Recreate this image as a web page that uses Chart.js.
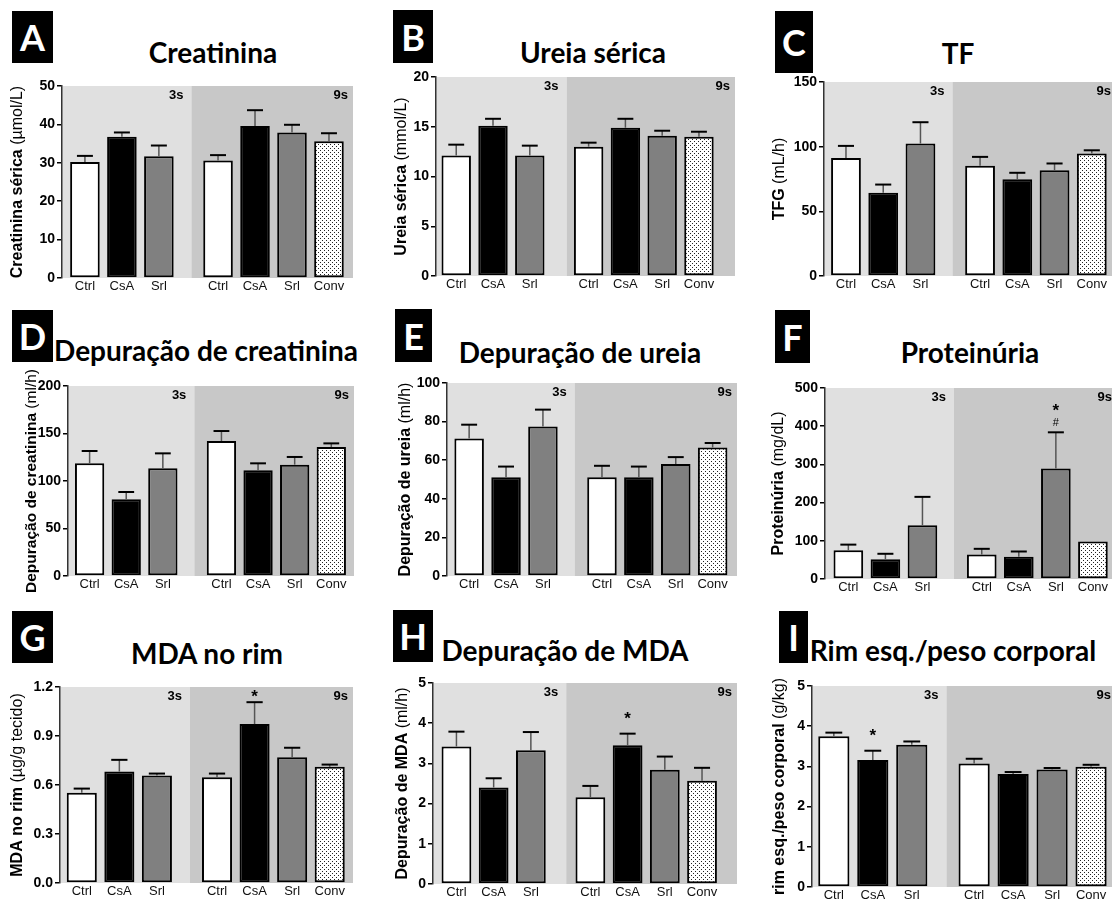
<!DOCTYPE html>
<html>
<head>
<meta charset="utf-8">
<script src="https://cdn.jsdelivr.net/npm/chart.js@4.4.1/dist/chart.umd.min.js"></script>
<style>
  body { margin: 0; width: 1112px; height: 902px; overflow: hidden; background: #fff; position: relative; }
  .letra { position: absolute; background: #000; color: #fff; font: bold 36px Lato, sans-serif;
           display: flex; align-items: center; justify-content: center; }
  .titulo { position: absolute; font: bold 28px Lato, sans-serif; color: #000; white-space: nowrap;
            transform: translate(-50%, -50%); }
  canvas { position: absolute; }
</style>
</head>
<body>
<script>
// --- Dados ---
const grupos = ['Ctrl', 'CsA', 'Srl', 'Ctrl', 'CsA', 'Srl', 'Conv'];
const posicoesX = [1, 2, 3, 4.6, 5.6, 6.6, 7.6]; // posição de cada grupo no eixo x (com espaço entre 3s e 9s)
const periodos = ['3s', '9s'];

const creatininaMedia = [30.2, 36.8, 31.7, 30.6, 39.6, 37.9, 35.6];
const creatininaErro  = [1.6, 1.1, 2.8, 1.4, 4.1, 2.0, 2.1];

const ureiaMedia = [12.1, 15.1, 12.1, 13.0, 14.9, 14.1, 14.0];
const ureiaErro  = [1.1, 0.7, 1.0, 0.4, 0.9, 0.5, 0.5];

const tfgMedia = [91.3, 64.3, 102.4, 85.2, 74.9, 81.8, 94.7];
const tfgErro  = [9.3, 6.4, 16.5, 6.9, 4.9, 5.2, 2.5];

const depCreatininaMedia = [118.6, 80.7, 113.3, 142.1, 111.2, 117.2, 135.8];
const depCreatininaErro  = [13.0, 7.7, 15.8, 10.5, 7.4, 8.1, 3.8];

const depUreiaMedia = [71.3, 51.2, 77.5, 51.2, 51.2, 58.0, 66.6];
const depUreiaErro  = [7.1, 5.5, 8.7, 5.9, 5.5, 3.6, 2.3];

const proteinuriaMedia = [75, 52, 141, 64, 58, 289, 98];
const proteinuriaErro  = [15, 14, 74, 15, 14, 95, 0];

const mdaRimMedia = [0.553, 0.682, 0.658, 0.648, 0.973, 0.770, 0.711];
const mdaRimErro  = [0.025, 0.072, 0.012, 0.022, 0.134, 0.058, 0.014];

const depMdaMedia = [3.42, 2.40, 3.33, 2.16, 3.45, 2.84, 2.57];
const depMdaErro  = [0.37, 0.23, 0.45, 0.28, 0.29, 0.33, 0.32];

const rimPesoMedia = [3.75, 3.16, 3.54, 3.07, 2.81, 2.92, 2.99];
const rimPesoErro  = [0.09, 0.23, 0.08, 0.12, 0.05, 0.04, 0.05];

// Marcas de significância: [índice da barra, texto, valor y]
const proteinuriaSinais = [[5, '*', 452], [5, '#', 410]];
const mdaRimSinais = [[4, '*', 1.165]];
const depMdaSinais = [[4, '*', 4.21]];
const rimPesoSinais = [[1, '*', 3.86]];

// --- Painéis (posições na página) ---
const paineis = [
  { letra: 'A', caixa: [12, 11, 41, 52], titulo: 'Creatinina', tituloPos: [213, 52],
    rotulo: ['Creatinina sérica', ' (µmol/L)'], media: creatininaMedia, erro: creatininaErro,
    yMax: 50, passo: 10, casas: 0, eixoX: 62, topo: 86, base: 278, direita: 353,
    xMin: 0.38, xMax: 8.25, divisao: 3.88, rotuloDx: 44, rotuloTam: 16, sinais: [] },
  { letra: 'B', caixa: [393, 10, 40, 53], titulo: 'Ureia sérica', tituloPos: [593, 52],
    rotulo: ['Ureia sérica', ' (mmol/L)'], media: ureiaMedia, erro: ureiaErro,
    yMax: 20, passo: 5, casas: 0, eixoX: 436, topo: 77, base: 276, direita: 735,
    xMin: 0.45, xMax: 8.58, divisao: 4.0, rotuloDx: 34, rotuloTam: 16, sinais: [] },
  { letra: 'C', caixa: [775, 11, 38, 62], titulo: 'TF', tituloPos: [958, 53],
    rotulo: ['TFG', ' (mL/h)'], media: tfgMedia, erro: tfgErro,
    yMax: 150, passo: 50, casas: 0, eixoX: 824, topo: 82, base: 276, direita: 1116,
    xMin: 0.41, xMax: 8.25, divisao: 3.86, rotuloDx: 44, rotuloTam: 16, sinais: [] },
  { letra: 'D', caixa: [12, 310, 41, 52], titulo: 'Depuração de creatinina', tituloPos: [206, 350],
    rotulo: ['Depuração de creatinina', ' (ml/h)'], media: depCreatininaMedia, erro: depCreatininaErro,
    yMax: 200, passo: 50, casas: 0, eixoX: 68, topo: 386, base: 576, direita: 354,
    xMin: 0.41, xMax: 8.22, divisao: 3.86, rotuloDx: 36, rotuloTam: 15.5, sinais: [] },
  { letra: 'E', caixa: [395, 309, 37, 53], titulo: 'Depuração de ureia', tituloPos: [580, 352],
    rotulo: ['Depuração de ureia', ' (ml/h)'], media: depUreiaMedia, erro: depUreiaErro,
    yMax: 100, passo: 20, casas: 0, eixoX: 447, topo: 383, base: 576, direita: 737,
    xMin: 0.40, xMax: 8.26, divisao: 3.86, rotuloDx: 41, rotuloTam: 16, sinais: [] },
  { letra: 'F', caixa: [775, 310, 35, 53], titulo: 'Proteinúria', tituloPos: [970, 352],
    rotulo: ['Proteinúria', ' (mg/dL)'], media: proteinuriaMedia, erro: proteinuriaErro,
    yMax: 500, passo: 100, casas: 0, eixoX: 825, topo: 388, base: 579, direita: 1117,
    xMin: 0.37, xMax: 8.25, divisao: 3.85, rotuloDx: 46, rotuloTam: 16, sinais: proteinuriaSinais },
  { letra: 'G', caixa: [12, 611, 41, 52], titulo: 'MDA no rim', tituloPos: [207, 653],
    rotulo: ['MDA no rim', ' (µg/g tecido)'], media: mdaRimMedia, erro: mdaRimErro,
    yMax: 1.2, passo: 0.3, casas: 1, eixoX: 60, topo: 687, base: 883, direita: 353,
    xMin: 0.42, xMax: 8.22, divisao: 3.88, rotuloDx: 42, rotuloTam: 16, sinais: mdaRimSinais },
  { letra: 'H', caixa: [393, 610, 40, 52], titulo: 'Depuração de MDA', tituloPos: [565, 650],
    rotulo: ['Depuração de MDA', ' (ml/h)'], media: depMdaMedia, erro: depMdaErro,
    yMax: 5, passo: 1, casas: 0, eixoX: 433, topo: 683, base: 884, direita: 737,
    xMin: 0.37, xMax: 8.54, divisao: 3.95, rotuloDx: 30, rotuloTam: 16, sinais: depMdaSinais },
  { letra: 'I', caixa: [779, 611, 29, 52], titulo: 'Rim esq./peso corporal', tituloPos: [953, 650],
    rotulo: ['rim esq./peso corporal', ' (g/kg)'], media: rimPesoMedia, erro: rimPesoErro,
    yMax: 5, passo: 1, casas: 0, eixoX: 812, topo: 686, base: 887, direita: 1116,
    xMin: 0.44, xMax: 8.24, divisao: 3.89, rotuloDx: 32, rotuloTam: 16, sinais: rimPesoSinais }
];

const FONTE = '"Liberation Sans", Arial, sans-serif';
const MARGEM_ESQ = 62;  // largura reservada ao eixo y
const MARGEM_TOPO = 28;
const ALTURA_X = 18;

// Padrão pontilhado da barra "Conv"
function padraoPontilhado() {
  const c = document.createElement('canvas');
  c.width = 4; c.height = 4;
  const g = c.getContext('2d');
  g.fillStyle = '#fff';
  g.fillRect(0, 0, 4, 4);
  g.fillStyle = '#222';
  g.fillRect(0, 0, 1, 1);
  g.fillRect(2, 2, 1, 1);
  return g.createPattern(c, 'repeat');
}

// Fundo cinza das regiões 3s / 9s
const fundoPlugin = {
  id: 'fundo',
  beforeDraw(chart, args, opts) {
    const { ctx, chartArea: a } = chart;
    const xs = chart.scales.x.getPixelForValue(opts.divisao);
    ctx.save();
    ctx.fillStyle = '#e0e0e0';
    ctx.fillRect(a.left, a.top, xs - a.left, a.bottom - a.top);
    ctx.fillStyle = '#c8c8c8';
    ctx.fillRect(xs, a.top, a.right - xs, a.bottom - a.top);
    ctx.fillStyle = '#000';
    ctx.font = 'bold 13px ' + FONTE;
    ctx.textAlign = 'right';
    ctx.textBaseline = 'middle';
    ctx.fillText(periodos[0], xs - 8, a.top + 9);
    ctx.fillText(periodos[1], a.right - 5, a.top + 9);
    ctx.restore();
  }
};

// Barras de erro (só para cima) e sinais
const erroPlugin = {
  id: 'erros',
  afterDatasetsDraw(chart, args, opts) {
    const { ctx } = chart;
    const y = chart.scales.y;
    const barras = chart.getDatasetMeta(0).data;
    ctx.save();
    barras.forEach((b, i) => {
      const e = opts.erro[i];
      if (!e) return;
      const yTopo = y.getPixelForValue(opts.media[i] + e);
      const meia = b.width * 0.27;
      ctx.strokeStyle = '#555';
      ctx.lineWidth = 1.5;
      ctx.beginPath();
      ctx.moveTo(b.x, b.y);
      ctx.lineTo(b.x, yTopo);
      ctx.stroke();
      ctx.strokeStyle = '#000';
      ctx.lineWidth = 2;
      ctx.beginPath();
      ctx.moveTo(b.x - meia, yTopo);
      ctx.lineTo(b.x + meia, yTopo);
      ctx.stroke();
    });
    ctx.fillStyle = '#000';
    ctx.textAlign = 'center';
    opts.sinais.forEach(([i, texto, valor]) => {
      const tam = texto === '*' ? 17 : 11;
      ctx.font = (texto === '*' ? 'bold ' : '') + tam + 'px ' + FONTE;
      const yc = y.getPixelForValue(valor);
      ctx.textBaseline = 'alphabetic';
      const desloc = texto === '*' ? tam * 0.55 : tam * 0.35;
      ctx.fillText(texto, barras[i].x, yc + desloc);
    });
    ctx.restore();
  }
};

// Título do eixo y com parte em negrito e parte normal
const rotuloPlugin = {
  id: 'rotuloY',
  afterDraw(chart, args, opts) {
    const { ctx, chartArea: a } = chart;
    ctx.save();
    ctx.translate(a.left - opts.dx, (a.top + a.bottom) / 2);
    ctx.rotate(-Math.PI / 2);
    ctx.fillStyle = '#000';
    ctx.textBaseline = 'middle';
    ctx.textAlign = 'left';
    const fNegrito = 'bold ' + opts.tam + 'px ' + FONTE;
    const fNormal = opts.tam + 'px ' + FONTE;
    ctx.font = fNegrito;
    const w1 = ctx.measureText(opts.texto[0]).width;
    ctx.font = fNormal;
    const w2 = ctx.measureText(opts.texto[1]).width;
    const x = -(w1 + w2) / 2;
    ctx.font = fNegrito;
    ctx.fillText(opts.texto[0], x, 0);
    ctx.font = fNormal;
    ctx.fillText(opts.texto[1], x + w1, 0);
    ctx.restore();
  }
};

const pontilhado = padraoPontilhado();

paineis.forEach(p => {
  // Letra do painel
  const caixa = document.createElement('div');
  caixa.className = 'letra';
  caixa.style.left = p.caixa[0] + 'px';
  caixa.style.top = p.caixa[1] + 'px';
  caixa.style.width = p.caixa[2] + 'px';
  caixa.style.height = p.caixa[3] + 'px';
  caixa.textContent = p.letra;
  document.body.appendChild(caixa);

  // Título
  const tit = document.createElement('div');
  tit.className = 'titulo';
  tit.style.left = p.tituloPos[0] + 'px';
  tit.style.top = p.tituloPos[1] + 'px';
  tit.textContent = p.titulo;
  document.body.appendChild(tit);

  // Gráfico
  const canvas = document.createElement('canvas');
  const largura = p.direita - p.eixoX + MARGEM_ESQ;
  const altura = p.base - p.topo + MARGEM_TOPO + ALTURA_X;
  canvas.width = largura;
  canvas.height = altura;
  canvas.style.left = (p.eixoX - MARGEM_ESQ) + 'px';
  canvas.style.top = (p.topo - MARGEM_TOPO) + 'px';
  document.body.appendChild(canvas);

  new Chart(canvas, {
    type: 'bar',
    data: {
      datasets: [{
        data: posicoesX.map((x, i) => ({ x: x, y: p.media[i] })),
        backgroundColor: ['#fff', '#000', '#808080', '#fff', '#000', '#808080', pontilhado],
        borderColor: '#000',
        borderWidth: 2,
        borderSkipped: false,
        barPercentage: 0.8,
        categoryPercentage: 1
      }]
    },
    options: {
      responsive: false,
      animation: false,
      devicePixelRatio: 1,
      layout: { padding: { left: 0, right: 0, top: MARGEM_TOPO, bottom: 0 } },
      scales: {
        x: {
          type: 'linear',
          offset: false,
          min: p.xMin,
          max: p.xMax,
          grid: { display: false, drawTicks: false },
          border: { display: false },
          afterBuildTicks: s => { s.ticks = posicoesX.map(v => ({ value: v })); },
          afterFit: s => { s.height = ALTURA_X; },
          ticks: {
            autoSkip: false,
            maxRotation: 0,
            padding: 1,
            color: '#111',
            font: { family: FONTE, size: 13 },
            callback: (v, i) => grupos[i]
          }
        },
        y: {
          min: 0,
          max: p.yMax,
          afterFit: s => { s.width = MARGEM_ESQ; },
          grid: { display: true, drawOnChartArea: false, drawTicks: true, tickLength: 5, color: '#000', lineWidth: 1.5 },
          border: { display: true, color: '#333', width: 1.5 },
          ticks: {
            stepSize: p.passo,
            padding: 2,
            color: '#000',
            font: { family: FONTE, size: 14, weight: 'bold' },
            callback: v => v.toFixed(p.casas)
          }
        }
      },
      plugins: {
        legend: { display: false },
        tooltip: { enabled: false },
        fundo: { divisao: p.divisao },
        erros: { media: p.media, erro: p.erro, sinais: p.sinais },
        rotuloY: { texto: p.rotulo, dx: p.rotuloDx, tam: p.rotuloTam }
      }
    },
    plugins: [fundoPlugin, erroPlugin, rotuloPlugin]
  });
});
</script>
</body>
</html>
